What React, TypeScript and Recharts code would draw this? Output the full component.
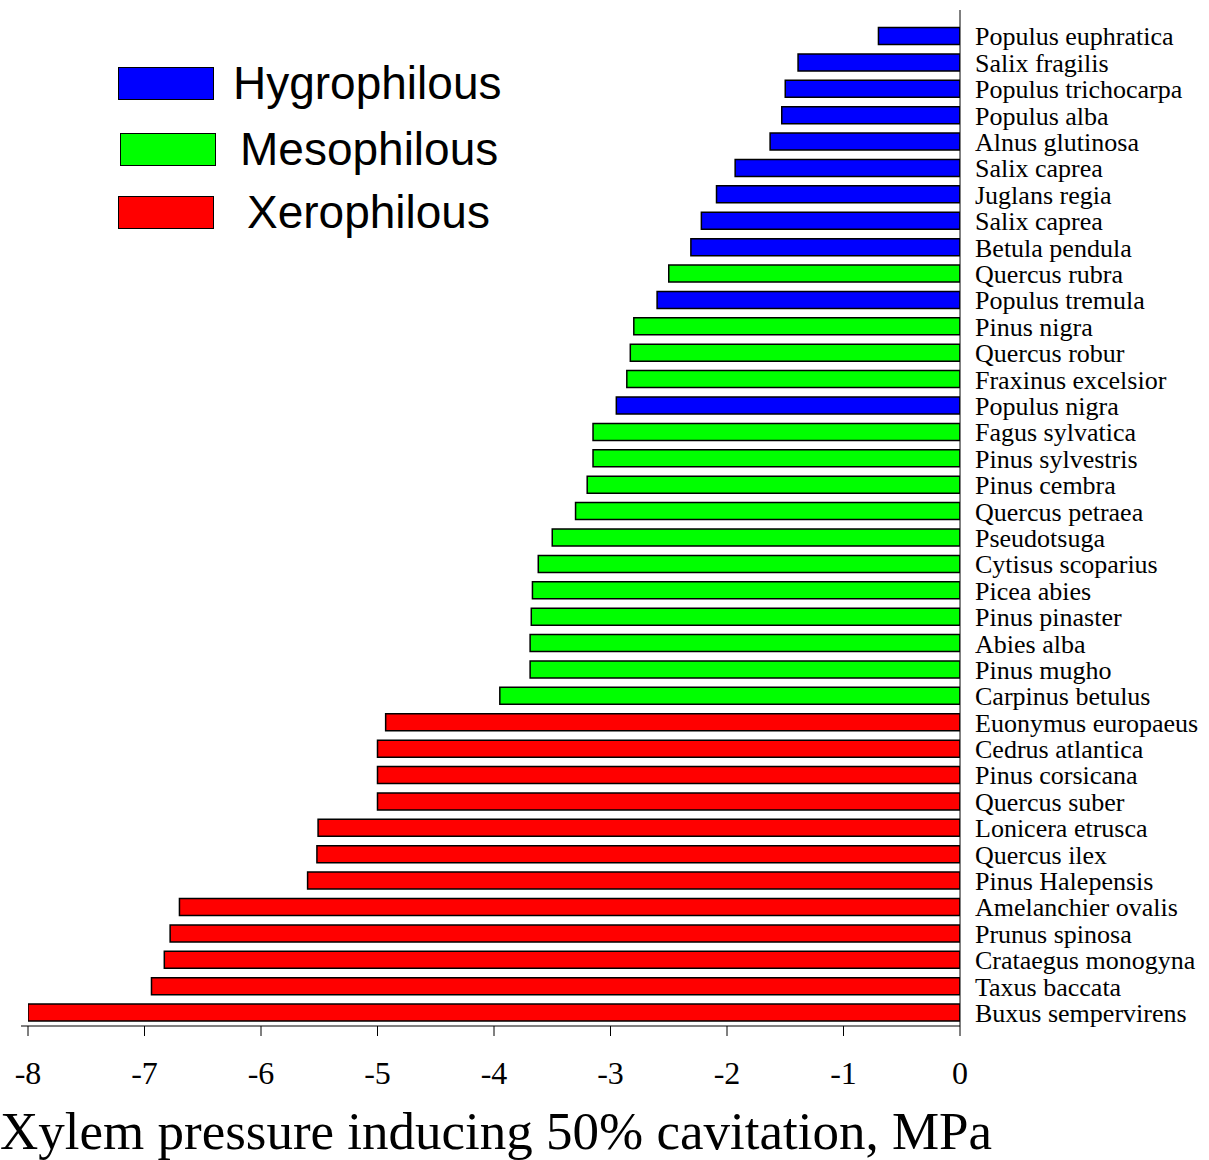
import React from 'react';
import { BarChart, Bar, XAxis, YAxis, Cell } from 'recharts';

const species = [
  'Populus euphratica', 'Salix fragilis', 'Populus trichocarpa', 'Populus alba', 'Alnus glutinosa',
  'Salix caprea', 'Juglans regia', 'Salix caprea ', 'Betula pendula', 'Quercus rubra',
  'Populus tremula', 'Pinus nigra', 'Quercus robur', 'Fraxinus excelsior', 'Populus nigra',
  'Fagus sylvatica', 'Pinus sylvestris', 'Pinus cembra', 'Quercus petraea', 'Pseudotsuga',
  'Cytisus scoparius', 'Picea abies', 'Pinus pinaster', 'Abies alba', 'Pinus mugho',
  'Carpinus betulus', 'Euonymus europaeus', 'Cedrus atlantica', 'Pinus corsicana', 'Quercus suber',
  'Lonicera etrusca', 'Quercus ilex', 'Pinus Halepensis', 'Amelanchier ovalis', 'Prunus spinosa',
  'Crataegus monogyna', 'Taxus baccata', 'Buxus sempervirens',
];

const pressure = [
  -0.70, -1.39, -1.50, -1.53, -1.63,
  -1.93, -2.09, -2.22, -2.31, -2.50,
  -2.60, -2.80, -2.83, -2.86, -2.95,
  -3.15, -3.15, -3.20, -3.30, -3.50,
  -3.62, -3.67, -3.68, -3.69, -3.69,
  -3.95, -4.93, -5.00, -5.00, -5.00,
  -5.51, -5.52, -5.60, -6.70, -6.78,
  -6.83, -6.94, -8.00,
];

// H = Hygrophilous, M = Mesophilous, X = Xerophilous
const group = [
  'H', 'H', 'H', 'H', 'H',
  'H', 'H', 'H', 'H', 'M',
  'H', 'M', 'M', 'M', 'H',
  'M', 'M', 'M', 'M', 'M',
  'M', 'M', 'M', 'M', 'M',
  'M', 'X', 'X', 'X', 'X',
  'X', 'X', 'X', 'X', 'X',
  'X', 'X', 'X',
];

const groupNames = ['Hygrophilous', 'Mesophilous', 'Xerophilous'];
const groupKeys = ['H', 'M', 'X'];
const xTicks = [-8, -7, -6, -5, -4, -3, -2, -1, 0];

const colors: Record<string, string> = { H: '#0000FF', M: '#00FF00', X: '#FF0000' };

const data = species.map((s, i) => ({ name: s, value: pressure[i], group: group[i] }));

const legendOffsets = [
  { boxLeft: 118, textLeft: 233, top: 67 },
  { boxLeft: 120, textLeft: 240, top: 133 },
  { boxLeft: 118, textLeft: 247, top: 196 },
];

const LegendOverlay = () => (
  <div style={{ position: 'absolute', left: 0, top: 0, width: 520, height: 240, pointerEvents: 'none' }}>
    {groupNames.map((g, i) => (
      <div key={g}>
        <div
          style={{
            position: 'absolute',
            left: legendOffsets[i].boxLeft,
            top: legendOffsets[i].top,
            width: 96,
            height: 33,
            background: colors[groupKeys[i]],
            border: '1.5px solid #000',
            boxSizing: 'border-box',
          }}
        />
        <div
          style={{
            position: 'absolute',
            left: legendOffsets[i].textLeft,
            top: legendOffsets[i].top - 14,
            height: 60,
            lineHeight: '60px',
            fontFamily: '"Liberation Sans", Arial, sans-serif',
            fontSize: 46,
            color: '#000',
            whiteSpace: 'nowrap',
          }}
        >
          {g}
        </div>
      </div>
    ))}
  </div>
);

export default function App() {
  return (
    <div style={{ position: 'absolute', left: 0, top: 0, width: 1209, height: 1160, background: '#fff' }}>
      <BarChart
        width={1209}
        height={1160}
        data={data}
        layout="vertical"
        margin={{ top: 10, right: 0, bottom: 0, left: 21 }}
        barCategoryGap="17%"
      >
        <XAxis
          type="number"
          dataKey="value"
          domain={[-8, 0]}
          ticks={xTicks}
          allowDataOverflow
          padding={{ left: 7, right: 0 }}
          height={134}
          stroke="#000"
          tickSize={10}
          tickMargin={25}
          tick={{ fill: '#000', fontSize: 32, fontFamily: '"Liberation Serif", "Times New Roman", serif' }}
          label={{
            value: 'Xylem pressure inducing 50% cavitation, MPa',
            position: 'insideBottomLeft',
            offset: 0,
            dx: -21,
            dy: -11,
            fill: '#000',
            fontSize: 53,
            fontFamily: '"Liberation Serif", "Times New Roman", serif',
            textAnchor: 'start',
          }}
        />
        <YAxis
          type="category"
          dataKey="name"
          orientation="right"
          width={249}
          padding={{ top: 13, bottom: 0 }}
          interval={0}
          stroke="#000"
          tickLine={false}
          tickSize={0}
          tickMargin={15}
          tick={{ fill: '#000', fontSize: 26, fontFamily: '"Liberation Serif", "Times New Roman", serif', textAnchor: 'start' }}
        />
        <Bar dataKey="value" stroke="#000" strokeWidth={1.5} isAnimationActive={false}>
          {data.map((d, i) => (
            <Cell key={i} fill={colors[d.group]} />
          ))}
        </Bar>
      </BarChart>
      <LegendOverlay />
    </div>
  );
}
